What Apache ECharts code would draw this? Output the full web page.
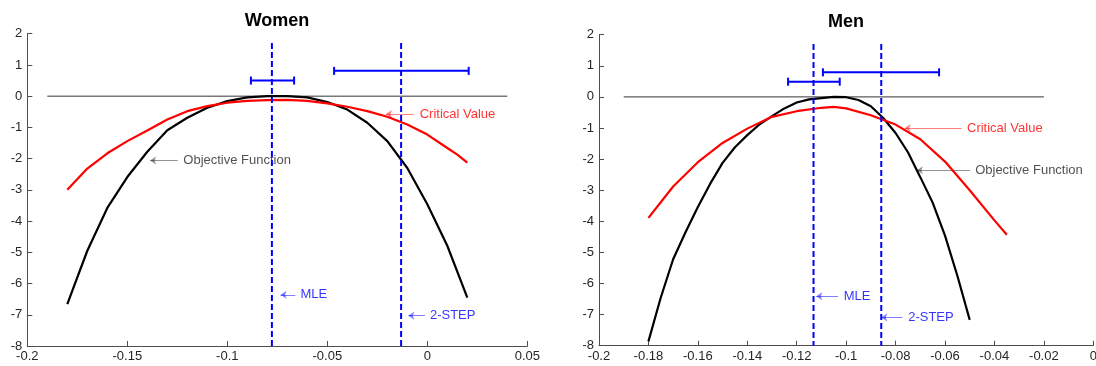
<!DOCTYPE html>
<html>
<head>
<meta charset="utf-8">
<script src="https://cdn.jsdelivr.net/npm/echarts@6/dist/echarts.min.js"></script>
<style>
  html, body { margin: 0; padding: 0; background: #fff; }
  #chart { width: 1096px; height: 366px; }
</style>
</head>
<body>
<div id="chart"></div>
<script>
// Women panel
const womenObjX = [-0.18, -0.17, -0.16, -0.15, -0.14, -0.13, -0.12, -0.11, -0.10, -0.09, -0.08,
  -0.07, -0.06, -0.05, -0.04, -0.03, -0.02, -0.01, 0.0, 0.01, 0.02];
const womenObj = [-6.66, -4.95, -3.58, -2.59, -1.78, -1.09, -0.69, -0.37, -0.16, -0.04, 0.0,
  0.0, -0.04, -0.19, -0.43, -0.85, -1.44, -2.30, -3.46, -4.79, -6.45];
const womenCritX = [-0.18, -0.17, -0.16, -0.15, -0.14, -0.13, -0.12, -0.11, -0.10, -0.09, -0.08,
  -0.07, -0.06, -0.05, -0.04, -0.03, -0.02, -0.01, 0.0, 0.01, 0.015, 0.02];
const womenCrit = [-3.0, -2.32, -1.83, -1.44, -1.10, -0.75, -0.48, -0.32, -0.21, -0.15, -0.13,
  -0.12, -0.15, -0.23, -0.34, -0.48, -0.66, -0.91, -1.23, -1.66, -1.87, -2.13];
const womenZero = [-0.19, 0.04];
const womenMle = -0.0777;
const women2Step = -0.0131;
const womenBars = [[-0.0882, -0.0666, 0.50], [-0.0466, 0.0207, 0.81]];

// Men panel
const menObjX = [-0.18, -0.175, -0.17, -0.165, -0.16, -0.155, -0.15, -0.145, -0.14, -0.135, -0.13,
  -0.125, -0.12, -0.115, -0.11, -0.105, -0.10, -0.095, -0.09, -0.085, -0.08, -0.075, -0.07,
  -0.065, -0.06, -0.055, -0.05];
const menObj = [-7.86, -6.45, -5.22, -4.35, -3.54, -2.79, -2.12, -1.62, -1.23, -0.88, -0.62,
  -0.37, -0.18, -0.08, -0.04, 0.0, -0.01, -0.10, -0.30, -0.68, -1.16, -1.78, -2.58,
  -3.40, -4.46, -5.75, -7.17];
const menCritX = [-0.18, -0.17, -0.16, -0.15, -0.14, -0.13, -0.12, -0.11, -0.105, -0.10, -0.09,
  -0.08, -0.07, -0.06, -0.05, -0.04, -0.035];
const menCrit = [-3.89, -2.88, -2.10, -1.48, -1.02, -0.64, -0.46, -0.35, -0.32, -0.37, -0.59,
  -0.89, -1.36, -2.08, -3.0, -3.97, -4.43];
const menZero = [-0.19, -0.02];
const menMle = -0.1132;
const men2Step = -0.0858;
const menBars = [[-0.1235, -0.1026, 0.49], [-0.1094, -0.0624, 0.79]];

// annotations: [label, textX, arrowFromX, arrowTipX, y, color]
const womenNotes = [
  ["Critical Value", -0.0038, -0.0069, -0.0207, -0.57, "#ff0000"],
  ["Objective Function", -0.1220, -0.1248, -0.1386, -2.06, "#262626"],
  ["MLE", -0.0634, -0.0660, -0.0734, -6.36, "#0000ff"],
  ["2-STEP", 0.0013, -0.0012, -0.0095, -7.03, "#0000ff"]
];
const menNotes = [
  ["Critical Value", -0.0511, -0.0533, -0.0763, -1.0, "#ff0000"],
  ["Objective Function", -0.0478, -0.0499, -0.0714, -2.36, "#262626"],
  ["MLE", -0.1010, -0.1033, -0.1121, -6.41, "#0000ff"],
  ["2-STEP", -0.0749, -0.0772, -0.0858, -7.09, "#0000ff"]
];

const FONT = "Liberation Sans";
const chart = echarts.init(document.getElementById("chart"));

function zip(xs, ys) {
  return xs.map((x, i) => [x, ys[i]]);
}

function xAxisOf(grid, max, interval) {
  return {
    type: "value", gridIndex: grid, min: -0.2, max: max, interval: interval,
    axisLine: { show: true, onZero: false, lineStyle: { color: "#4d4d4d", width: 1 } },
    axisTick: { show: true, inside: true, length: 5, lineStyle: { color: "#4d4d4d" } },
    axisLabel: { color: "#262626", fontSize: 13, fontFamily: FONT, margin: 4, hideOverlap: false },
    splitLine: { show: false }
  };
}

function yAxisOf(grid) {
  return {
    type: "value", gridIndex: grid, min: -8, max: 2, interval: 1,
    axisLine: { show: true, onZero: false, lineStyle: { color: "#4d4d4d", width: 1 } },
    axisTick: { show: true, inside: true, length: 5, lineStyle: { color: "#4d4d4d" } },
    axisLabel: { color: "#262626", fontSize: 13, fontFamily: FONT, margin: 5 },
    splitLine: { show: false }
  };
}

function panelSeries(i, obj, crit, zero, mle, twoStep, bars, notes) {
  const ax = { xAxisIndex: i, yAxisIndex: i };
  const plain = { type: "line", symbol: "none", silent: true, ...ax };
  return [
    { ...plain, data: [[zero[0], 0], [zero[1], 0]], lineStyle: { color: "#333", width: 1 } },
    { ...plain, data: obj, lineStyle: { color: "#000", width: 2.2 } },
    { ...plain, data: crit, lineStyle: { color: "#ff0000", width: 2.2 } },
    { ...plain, data: [[mle, 1.7], [mle, -8]], lineStyle: { color: "#0000ff", width: 2, type: [6, 3] } },
    { ...plain, data: [[twoStep, 1.7], [twoStep, -8]], lineStyle: { color: "#0000ff", width: 2, type: [6, 3] } },
    {
      type: "custom", ...ax, silent: true, data: bars,
      encode: { x: [0, 1], y: 2 },
      renderItem: function (params, api) {
        const a = api.coord([api.value(0), api.value(2)]);
        const b = api.coord([api.value(1), api.value(2)]);
        const st = { stroke: "#0000ff", lineWidth: 2 };
        return {
          type: "group",
          children: [
            { type: "line", shape: { x1: a[0], y1: a[1], x2: b[0], y2: b[1] }, style: st },
            { type: "line", shape: { x1: a[0], y1: a[1] - 4, x2: a[0], y2: a[1] + 4 }, style: st },
            { type: "line", shape: { x1: b[0], y1: b[1] - 4, x2: b[0], y2: b[1] + 4 }, style: st }
          ]
        };
      }
    },
    {
      type: "lines", coordinateSystem: "cartesian2d", ...ax, silent: true,
      symbol: ["none", "arrow"], symbolSize: 6,
      data: notes.map(n => ({ coords: [[n[2], n[4]], [n[3], n[4]]], lineStyle: { color: n[5], width: 1 } }))
    },
    {
      type: "scatter", ...ax, silent: true, symbolSize: 0,
      data: notes.map(n => ({
        value: [n[1], n[4]], name: n[0],
        label: { color: n[5] }
      })),
      label: { show: true, position: "right", distance: 0, formatter: "{b}", fontSize: 13, fontFamily: FONT }
    }
  ];
}

chart.setOption({
  animation: false,
  graphic: [
    { type: "text", x: 277, y: 21, style: { text: "Women", font: "bold 18px " + FONT, fill: "#000", textAlign: "center", textVerticalAlign: "middle" } },
    { type: "text", x: 846, y: 22, style: { text: "Men", font: "bold 18px " + FONT, fill: "#000", textAlign: "center", textVerticalAlign: "middle" } }
  ],
  grid: [
    { left: 27.3, top: 33.7, width: 500, height: 312.3, containLabel: false, outerBoundsMode: "none" },
    { left: 599, top: 34.7, width: 494.3, height: 311, containLabel: false, outerBoundsMode: "none" }
  ],
  xAxis: [xAxisOf(0, 0.05, 0.05), xAxisOf(1, 0, 0.02)],
  yAxis: [yAxisOf(0), yAxisOf(1)],
  series: [
    ...panelSeries(0, zip(womenObjX, womenObj), zip(womenCritX, womenCrit), womenZero,
      womenMle, women2Step, womenBars, womenNotes),
    ...panelSeries(1, zip(menObjX, menObj), zip(menCritX, menCrit), menZero,
      menMle, men2Step, menBars, menNotes)
  ]
});
</script>
</body>
</html>
